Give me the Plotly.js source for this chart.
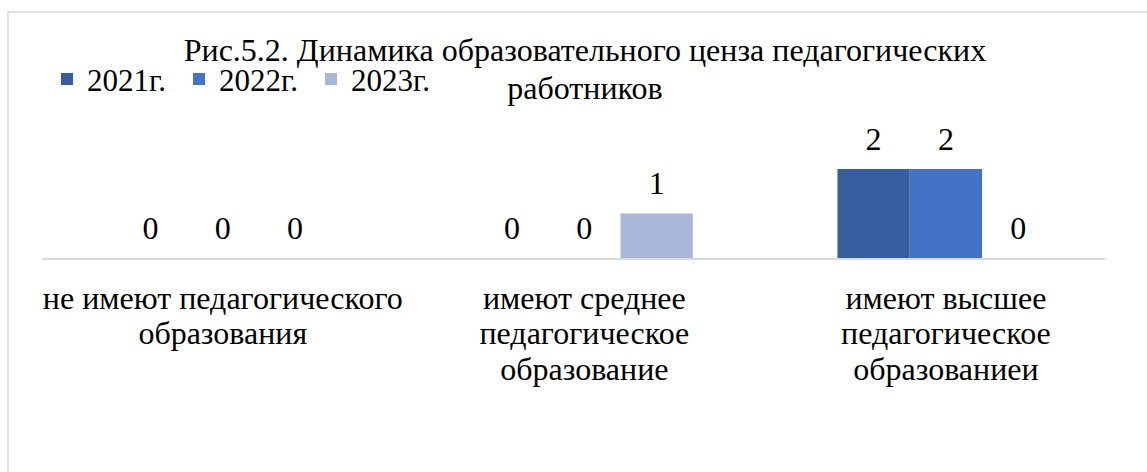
<!DOCTYPE html>
<html>
<head>
<meta charset="utf-8">
<script src="https://cdn.plot.ly/plotly-3.0.1.min.js"></script>
<style>html,body{margin:0;padding:0;background:#fff;}#chart{width:1147px;height:472px;}</style>
</head>
<body>
<div id="chart"></div>
<script>
const categories = [
  ["не имеют педагогического", "образования"],
  ["имеют среднее", "педагогическое", "образование"],
  ["имеют высшее", "педагогическое", "образованиеи"]
];
const seriesNames = ["2021г.", "2022г.", "2023г."];
const values2021 = [0, 0, 2];
const values2022 = [0, 0, 2];
const values2023 = [0, 1, 0];
const colors = ["#365DA0", "#4472C4", "#A8B6DA"];
const titleLines = ["Рис.5.2. Динамика образовательного ценза педагогических", "работников"];

const FONT = 'Liberation Serif, Times New Roman, serif';
const BIG = 32;
const big = s => '<span style="font-size:' + BIG + 'px">' + s + '</span>';
const catKeys = categories.map(c => c.join(' '));
const catText = categories.map(c => c.map(big).join('<br>'));
const allValues = [values2021, values2022, values2023];

const traces = [];
allValues.forEach((vals, i) => {
  traces.push({
    type: 'bar', x: catKeys, y: vals, name: seriesNames[i],
    marker: {color: colors[i]}, textposition: 'none', hoverinfo: 'skip'
  });
});
allValues.forEach((vals, i) => {
  traces.push({
    type: 'scatter', mode: 'markers+text', x: catKeys, y: vals,
    text: vals.map(String), textposition: 'top center',
    textfont: {family: FONT, size: 32, color: '#000'},
    marker: {size: 16, color: 'rgba(0,0,0,0)'},
    showlegend: false, hoverinfo: 'skip', cliponaxis: false
  });
});

const layout = {
  width: 1147, height: 472,
  margin: {l: 42, r: 42, t: 100, b: 214},
  paper_bgcolor: '#fff', plot_bgcolor: '#fff',
  font: {family: FONT, size: 28, color: '#000'},
  barmode: 'group', bargap: 0.4, bargroupgap: 0,
  scattermode: 'group', scattergap: 0.4,
  showlegend: true,
  title: {text: titleLines.map(big).join('<br>'), x: 0.51, xref: 'container', xanchor: 'center',
          y: 1 - 61/472, yref: 'container', yanchor: 'top',
          font: {family: FONT, size: 29.2, color: '#000'}},
  legend: {orientation: 'h', x: 5/1063, xanchor: 'left', y: 1.13, yanchor: 'middle',
           font: {family: FONT, size: 31, color: '#000'},
           entrywidth: 87, entrywidthmode: 'pixels', bgcolor: 'rgba(0,0,0,0)'},
  xaxis: {type: 'category', range: [-0.5, 2.44], showline: true, linecolor: '#d9d9d9', linewidth: 2,
          tickmode: 'array', tickvals: catKeys, ticktext: catText,
          ticks: '', showgrid: false, zeroline: false, fixedrange: true, ticklabelstandoff: 16,
          tickfont: {family: FONT, size: 27.3, color: '#000'}},
  yaxis: {range: [0, 3.55], showgrid: false, zeroline: false, showticklabels: false,
          showline: false, ticks: '', fixedrange: true},
  shapes: [{type: 'rect', xref: 'paper', yref: 'paper',
            x0: (8 - 42) / 1063, x1: 1.2, y0: -2, y1: (258 - 12) / 158,
            line: {color: '#d9d9d9', width: 1.5}, fillcolor: 'rgba(0,0,0,0)', layer: 'below'}]
};

Plotly.newPlot('chart', traces, layout, {staticPlot: true, displayModeBar: false});
</script>
</body>
</html>
